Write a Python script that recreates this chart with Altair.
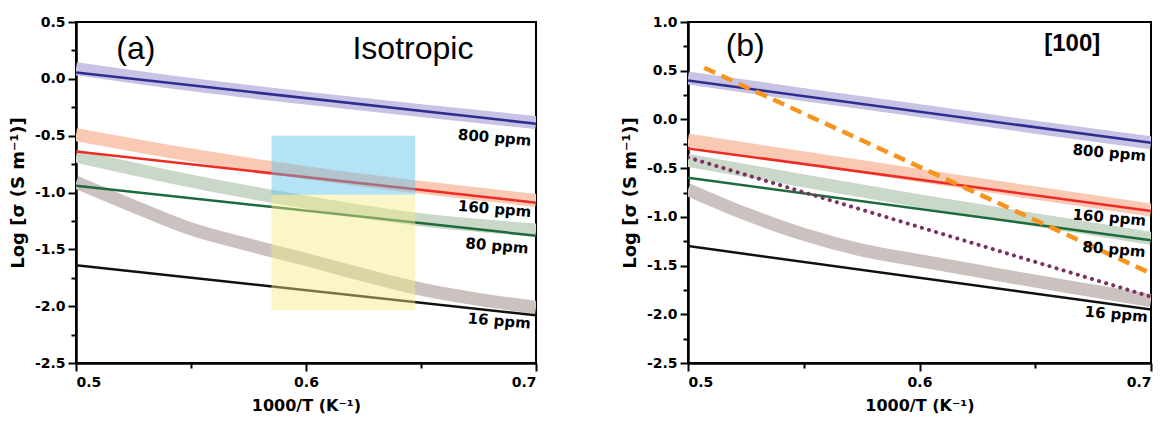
import altair as alt
import pandas as pd

# 1000/T sample points (K^-1)
X_ENDS = [0.5, 0.7]
X_BAND = [0.5, 0.55, 0.6, 0.65, 0.7]
X_BAND_FINE = [0.5, 0.525, 0.55, 0.575, 0.6, 0.625, 0.65, 0.675, 0.7]

PPM = ["800 ppm", "160 ppm", "80 ppm", "16 ppm"]
LINE_COLORS = ["#2d2d8f", "#ef2b24", "#1d6b3d", "#111111"]
BAND_COLORS = ["#c6c3e4", "#f9c9b4", "#c9d8c8", "#cbc1bf"]

# (a) isotropic: model lines (log sigma at 0.5 and 0.7)
iso_line_800 = [0.055, -0.395]
iso_line_160 = [-0.64, -1.09]
iso_line_80 = [-0.94, -1.38]
iso_line_16 = [-1.64, -2.08]
# (a) isotropic: measured bands (centre values)
iso_band_800 = [0.09, -0.05, -0.17, -0.28, -0.385]
iso_band_160 = [-0.49, -0.67, -0.825, -0.955, -1.07]
iso_band_80 = [-0.68, -0.90, -1.085, -1.24, -1.33]
iso_band_16 = [-0.91, -1.12, -1.32, -1.46, -1.59, -1.725, -1.85, -1.94, -2.01]

# (b) [100] direction
b_line_800 = [0.40, -0.24]
b_line_160 = [-0.297, -0.94]
b_line_80 = [-0.598, -1.24]
b_line_16 = [-1.30, -1.95]
b_band_800 = [0.425, 0.255, 0.09, -0.08, -0.24]
b_band_160 = [-0.213, -0.395, -0.575, -0.755, -0.93]
b_band_80 = [-0.42, -0.63, -0.835, -1.03, -1.22]
b_band_16 = [-0.72, -0.97, -1.18, -1.34, -1.45, -1.555, -1.66, -1.76, -1.86]
b_dash_x = [0.507, 0.7]
b_dash_y = [0.53, -1.58]
b_dot_x = [0.5, 0.7]
b_dot_y = [-0.39, -1.82]

# highlighted windows in (a)
win_x = [0.585, 0.6475]
win_blue_y = [-0.5, -1.02]
win_yellow_y = [-1.02, -2.035]

# curve labels
iso_label_x = [0.682, 0.682, 0.683, 0.684]
iso_label_y = [-0.518, -1.145, -1.47, -2.13]
b_label_x = [0.682, 0.682, 0.684, 0.685]
b_label_y = [-0.343, -1.008, -1.334, -2.0]

X_MAJOR = [0.5, 0.6, 0.7]
X_MINOR = [0.55, 0.65]

FONT = "DejaVu Sans"
ARIAL = "Liberation Sans"
X_TITLE = "1000/T (K⁻¹)"
Y_TITLE = "Log [σ (S m⁻¹)]"

XS = alt.X("x:Q", axis=None)
YS = alt.Y("y:Q", axis=None)


def series_table(xs_list, ys_list, colors):
    rows = []
    for name, xs, ys, col in zip(PPM, xs_list, ys_list, colors):
        for x, y in zip(xs, ys):
            rows.append({"series": name, "x": x, "y": y, "color": col})
    return pd.DataFrame(rows)


def ticks_between(lo, hi, step):
    n = int(round((hi - lo) / step))
    return [round(lo + i * step, 4) for i in range(n + 1)]


def panel(lines, bands, ydom, labels_x, labels_y, extra, width):
    y_major = ticks_between(ydom[0], ydom[1], 0.5)
    y_minor = [round(v + 0.25, 4) for v in y_major[:-1]]

    xscale = alt.Scale(domain=[0.5, 0.7], nice=False, zero=False)
    yscale = alt.Scale(domain=ydom, nice=False, zero=False)

    x_axis = alt.Axis(
        values=X_MAJOR, format=".1f", tickSize=8, orient="bottom",
        labelFont=FONT, labelFontWeight="bold", labelFontSize=14, labelPadding=4,
        titleFont=FONT, titleFontWeight="bold", titleFontSize=16, titlePadding=8,
        labelColor="black", titleColor="black",
    )
    y_axis = alt.Axis(
        values=y_major, tickSize=8, orient="left",
        labelExpr="replace(format(datum.value, '.1f'), '−', '-')",
        labelFont=FONT, labelFontWeight="bold", labelFontSize=14, labelPadding=3,
        titleFont=FONT, titleFontWeight="bold", titleFontSize=18, titlePadding=7,
        labelColor="black", titleColor="black",
    )
    x_minor = alt.Axis(values=X_MINOR, tickSize=5, labels=False, title=None, orient="bottom")
    y_minor_ax = alt.Axis(values=y_minor, tickSize=5, labels=False, title=None, orient="left")

    band_df = series_table([X_BAND, X_BAND, X_BAND, X_BAND_FINE], bands, BAND_COLORS)
    line_df = series_table([X_ENDS] * 4, lines, LINE_COLORS)

    band_layer = alt.Chart(band_df).mark_line(
        strokeWidth=13, strokeCap="butt", interpolate="monotone", clip=True
    ).encode(
        x=alt.X("x:Q", scale=xscale, axis=x_axis, title=X_TITLE),
        y=alt.Y("y:Q", scale=yscale, axis=y_axis, title=Y_TITLE),
        color=alt.Color("color:N", scale=None),
        detail="series:N",
    )
    minor_layer = alt.Chart(line_df).mark_point(opacity=0).encode(
        x=alt.X("x:Q", scale=xscale, axis=x_minor),
        y=alt.Y("y:Q", scale=yscale, axis=y_minor_ax),
    )
    line_layer = alt.Chart(line_df).mark_line(strokeWidth=2.5, clip=True).encode(
        x=XS, y=YS,
        color=alt.Color("color:N", scale=None),
        detail="series:N",
    )
    label_df = pd.DataFrame({"x": labels_x, "y": labels_y, "text": PPM})
    label_layer = alt.Chart(label_df).mark_text(
        font=FONT, fontWeight="bold", fontSize=15, angle=5, color="black", align="center", baseline="middle"
    ).encode(x=XS, y=YS, text="text:N")

    layers = [band_layer, minor_layer, line_layer] + extra + [label_layer]
    return alt.layer(*layers).resolve_axis(x="independent", y="independent").properties(width=width, height=341)


# ---- panel (a): isotropic ----
win_df = pd.DataFrame({
    "x": [win_x[0], win_x[0]], "x2": [win_x[1], win_x[1]],
    "y": [win_blue_y[0], win_yellow_y[0]], "y2": [win_blue_y[1], win_yellow_y[1]],
    "fill": ["#5bc0eb", "#f4ea85"],
})
win_layer = alt.Chart(win_df).mark_rect(opacity=0.45).encode(
    x=XS, x2="x2", y=YS, y2="y2", color=alt.Color("fill:N", scale=None)
)
a_text = pd.DataFrame({"x": [0.526, 0.6465], "y": [0.26, 0.262], "text": ["(a)", "Isotropic"]})
a_text_layer = alt.Chart(a_text).mark_text(font=ARIAL, fontSize=32, color="black", align="center", baseline="middle").encode(
    x=XS, y=YS, text="text:N"
)
panel_a = panel(
    [iso_line_800, iso_line_160, iso_line_80, iso_line_16],
    [iso_band_800, iso_band_160, iso_band_80, iso_band_16],
    [-2.5, 0.5], iso_label_x, iso_label_y,
    [win_layer, a_text_layer], 460,
)

# ---- panel (b): [100] ----
dash_df = pd.DataFrame({"x": b_dash_x, "y": b_dash_y})
dash_layer = alt.Chart(dash_df).mark_line(color="#f7941d", strokeWidth=4.5, strokeDash=[12, 7], clip=True).encode(
    x=XS, y=YS
)
dot_df = pd.DataFrame({"x": b_dot_x, "y": b_dot_y})
dot_layer = alt.Chart(dot_df).mark_line(
    color="#7d2f62", strokeWidth=4, strokeDash=[0.1, 7.3], strokeCap="round", clip=True
).encode(x=XS, y=YS)
b_text = pd.DataFrame({"x": [0.5247], "y": [0.754], "text": ["(b)"]})
b_text_layer = alt.Chart(b_text).mark_text(font=ARIAL, fontSize=32, color="black", align="center", baseline="middle").encode(
    x=XS, y=YS, text="text:N"
)
b_dir = pd.DataFrame({"x": [0.666], "y": [0.77], "text": ["[100]"]})
b_dir_layer = alt.Chart(b_dir).mark_text(font=ARIAL, fontWeight="bold", fontSize=24, color="black", align="center", baseline="middle").encode(
    x=XS, y=YS, text="text:N"
)
panel_b = panel(
    [b_line_800, b_line_160, b_line_80, b_line_16],
    [b_band_800, b_band_160, b_band_80, b_band_16],
    [-2.5, 1.0], b_label_x, b_label_y,
    [dash_layer, dot_layer, b_text_layer, b_dir_layer], 463,
)

chart = alt.hconcat(panel_a, panel_b, spacing=80).properties(
    padding={"left": 8, "top": 14, "right": 3, "bottom": 5},
    background="white",
).configure_view(
    stroke="black", strokeWidth=2
).configure_axis(
    domainColor="black", domainWidth=2, tickColor="black", tickWidth=2, grid=False
)

chart.save("out.html", embed_options={"renderer": "svg", "actions": False})
